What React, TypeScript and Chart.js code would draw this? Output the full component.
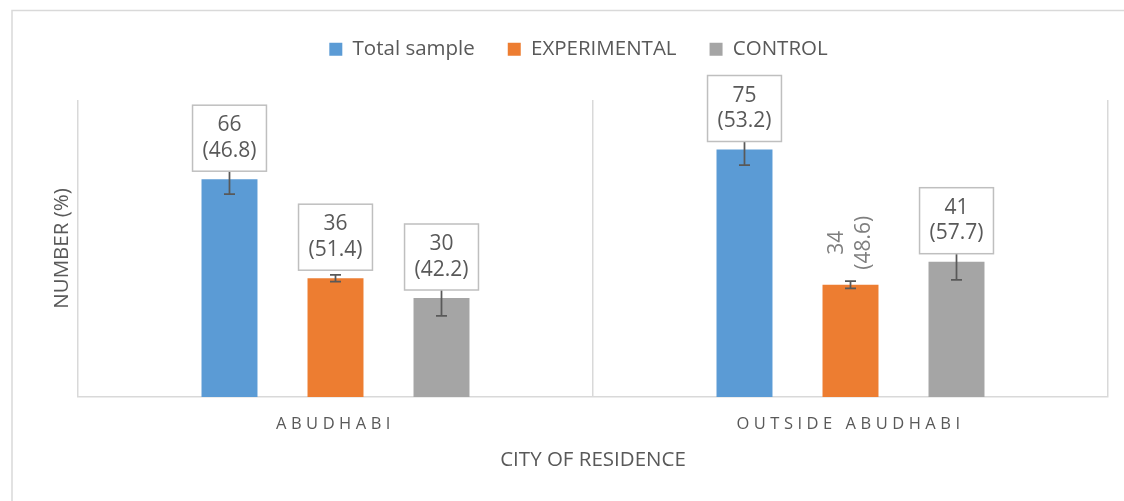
import React, { useEffect, useRef } from 'react';
import { Chart, registerables } from 'chart.js';

Chart.register(...registerables);

// ---- data ----
const categories = ['ABUDHABI', 'OUTSIDE ABUDHABI'];
const seriesNames = ['Total sample', 'EXPERIMENTAL', 'CONTROL'];
const totalCounts = [66, 75];
const totalPercents = [46.8, 53.2];
const totalErrors = [4.5, 4.7];
const experimentalCounts = [36, 34];
const experimentalPercents = [51.4, 48.6];
const experimentalErrors = [1.0, 1.1];
const controlCounts = [30, 41];
const controlPercents = [42.2, 57.7];
const controlErrors = [5.4, 5.5];
const yAxisMax = 90;
const xAxisTitle = 'CITY OF RESIDENCE';
const yAxisTitle = 'NUMBER (%)';

// ---- style ----
const FONT = '"Open Sans"';
const TEXT = '#595959';
const LINE = '#d9d9d9';
const COLORS = ['#5b9bd5', '#ed7d31', '#a5a5a5'];
const W = 1124;
const H = 501;

const framePlugin = {
  id: 'frame',
  beforeDraw(chart: any) {
    const ctx = chart.ctx;
    ctx.save();
    ctx.fillStyle = '#ffffff';
    ctx.fillRect(0, 0, chart.width, chart.height);
    ctx.strokeStyle = LINE;
    ctx.lineWidth = 1.5;
    ctx.beginPath();
    ctx.moveTo(12, chart.height + 2);
    ctx.lineTo(12, 10.5);
    ctx.lineTo(chart.width + 2, 10.5);
    ctx.stroke();
    ctx.restore();
  },
};

const legendSpacer = {
  id: 'legendSpacer',
  afterInit(chart: any) {
    const legend = chart.legend;
    if (!legend || legend.__wrapped) return;
    const orig = legend.fit;
    legend.fit = function () {
      orig.call(this);
      this.height += 30.5;
    };
    legend.__wrapped = true;
  },
};

const labelPlugin = {
  id: 'barLabels',
  afterDatasetsDraw(chart: any) {
    const ctx = chart.ctx;
    const yScale = chart.scales.y;
    const lh = 25.5;
    const padX = 10;
    const padY = 7.5;
    chart.data.datasets.forEach((ds: any, i: number) => {
      const meta = chart.getDatasetMeta(i);
      meta.data.forEach((bar: any, j: number) => {
        const v = ds.data[j];
        const e = ds.errors[j];
        const x = bar.x;
        const yHi = yScale.getPixelForValue(v + e);
        const yLo = yScale.getPixelForValue(v - e);
        ctx.save();
        ctx.strokeStyle = '#595959';
        ctx.lineWidth = 1.75;
        ctx.beginPath();
        ctx.moveTo(x, yHi);
        ctx.lineTo(x, yLo);
        ctx.moveTo(x - 5.5, yHi);
        ctx.lineTo(x + 5.5, yHi);
        ctx.moveTo(x - 5.5, yLo);
        ctx.lineTo(x + 5.5, yLo);
        ctx.stroke();
        ctx.restore();
      });
    });
    chart.data.datasets.forEach((ds: any, i: number) => {
      const meta = chart.getDatasetMeta(i);
      meta.data.forEach((bar: any, j: number) => {
        const v = ds.data[j];
        const lines = [String(v), '(' + ds.percents[j].toFixed(1) + ')'];
        const x = bar.x;
        const top = bar.y;
        ctx.save();
        ctx.font = '21px ' + FONT;
        ctx.textAlign = 'center';
        ctx.textBaseline = 'middle';
        const tw = Math.max(...lines.map((l) => ctx.measureText(l).width));
        if (ds.rotatedLabels[j]) {
          const cy = top - 15 - tw / 2;
          ctx.translate(x, cy);
          ctx.rotate(-Math.PI / 2);
          ctx.fillStyle = '#7f7f7f';
          lines.forEach((l, k) => ctx.fillText(l, 0, (k - (lines.length - 1) / 2) * 27));
        } else {
          const w = tw + 2 * padX;
          const h = lines.length * lh + 2 * padY;
          const bx = x - w / 2;
          const by = top - 8 - h;
          ctx.fillStyle = '#ffffff';
          ctx.fillRect(bx, by, w, h);
          ctx.strokeStyle = '#bfbfbf';
          ctx.lineWidth = 1.5;
          ctx.strokeRect(bx, by, w, h);
          ctx.fillStyle = TEXT;
          lines.forEach((l, k) => ctx.fillText(l, x, by + padY + lh * (k + 0.5)));
        }
        ctx.restore();
      });
    });
    // letter-spaced category labels (x ticks are drawn after this, z = 1)
    (ctx as any).letterSpacing = '4.5px';
  },
  afterDraw(chart: any) {
    (chart.ctx as any).letterSpacing = '0px';
  },
};

export default function App() {
  const ref = useRef<HTMLCanvasElement>(null);
  useEffect(() => {
    if (!ref.current) return;
    const chart = new Chart(ref.current, {
      type: 'bar',
      data: {
        labels: categories,
        datasets: [
          {
            label: seriesNames[0],
            data: totalCounts,
            backgroundColor: COLORS[0],
            errors: totalErrors,
            percents: totalPercents,
            rotatedLabels: [false, false],
          } as any,
          {
            label: seriesNames[1],
            data: experimentalCounts,
            backgroundColor: COLORS[1],
            errors: experimentalErrors,
            percents: experimentalPercents,
            rotatedLabels: [false, true],
          } as any,
          {
            label: seriesNames[2],
            data: controlCounts,
            backgroundColor: COLORS[2],
            errors: controlErrors,
            percents: controlPercents,
            rotatedLabels: [false, false],
          } as any,
        ],
      },
      options: {
        responsive: false,
        animation: false,
        devicePixelRatio: 1,
        categoryPercentage: 0.6175,
        barPercentage: 0.528,
        layout: { padding: { left: 49, right: 16, top: 6, bottom: 0 } },
        plugins: {
          legend: {
            position: 'top',
            labels: {
              boxWidth: 13,
              boxHeight: 13,
              padding: 33,
              color: TEXT,
              font: { family: FONT, size: 20.5 },
            },
          },
          tooltip: { enabled: false },
        },
        scales: {
          x: {
            grid: { display: true, color: LINE, lineWidth: 1.5, drawTicks: false, offset: true },
            border: { display: true, color: LINE, width: 1.5 },
            ticks: {
              color: TEXT,
              font: { family: FONT, size: 16.5 },
              padding: 17.5,
              z: 1,
              maxRotation: 0,
              autoSkip: false,
            },
            title: {
              display: true,
              text: xAxisTitle,
              color: TEXT,
              font: { family: FONT, size: 20.5 },
              padding: { top: 0, bottom: 28.5 },
            },
            afterFit: (s: any) => {
              s.height = 104;
            },
          },
          y: {
            min: 0,
            max: yAxisMax,
            grid: { display: false },
            border: { display: false },
            ticks: { display: false },
            title: {
              display: true,
              text: yAxisTitle,
              color: TEXT,
              font: { family: FONT, size: 20.5 },
              padding: { top: 0.7, bottom: 0 },
            },
            afterFit: (s: any) => {
              s.width = 29;
            },
          },
        },
      } as any,
      plugins: [framePlugin, legendSpacer, labelPlugin],
    });
    return () => chart.destroy();
  }, []);
  return (
    <div style={{ position: 'fixed', left: 0, top: 0, width: W, height: H, background: '#fff' }}>
      <canvas ref={ref} width={W} height={H} style={{ display: 'block', width: W, height: H }} />
    </div>
  );
}
